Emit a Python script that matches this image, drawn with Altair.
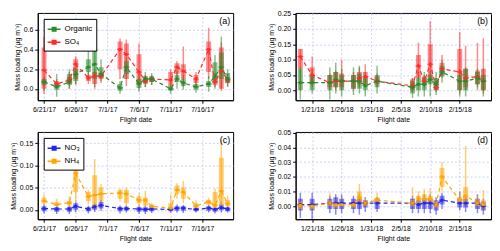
import altair as alt
import pandas as pd

# ---------------- data ----------------
summer_dates = ["2017-06-21", "2017-06-23", "2017-06-25", "2017-06-26", "2017-06-28",
                "2017-06-29", "2017-06-30", "2017-07-03", "2017-07-04", "2017-07-06",
                "2017-07-07", "2017-07-08", "2017-07-11", "2017-07-12", "2017-07-13",
                "2017-07-15", "2017-07-17", "2017-07-18", "2017-07-19", "2017-07-20"]
winter_dates = ["2018-01-19", "2018-01-21", "2018-01-24", "2018-01-25", "2018-01-26",
                "2018-01-28", "2018-01-29", "2018-01-30", "2018-02-01", "2018-02-07",
                "2018-02-08", "2018-02-09", "2018-02-10", "2018-02-11", "2018-02-12",
                "2018-02-15", "2018-02-16", "2018-02-18", "2018-02-19"]

# each entry: (lower whisker, q1, median, q3, upper whisker)
organic_summer = [(-0.02, 0.04, 0.07, 0.10, 0.12), (-0.08, -0.01, 0.02, 0.06, 0.15),
                  (0.00, 0.04, 0.07, 0.15, 0.20), (0.04, 0.08, 0.15, 0.20, 0.25),
                  (0.12, 0.17, 0.22, 0.30, 0.39), (0.02, 0.10, 0.25, 0.42, 0.60),
                  (0.08, 0.11, 0.15, 0.22, 0.30), (-0.05, -0.02, 0.01, 0.05, 0.08),
                  (0.10, 0.15, 0.22, 0.28, 0.32), (-0.03, 0.01, 0.05, 0.10, 0.15),
                  (0.02, 0.06, 0.10, 0.13, 0.17), (0.04, 0.07, 0.10, 0.13, 0.16),
                  (-0.05, -0.02, 0.00, 0.03, 0.07), (0.00, 0.07, 0.10, 0.14, 0.18),
                  (-0.01, 0.03, 0.06, 0.10, 0.14), (-0.04, -0.01, 0.02, 0.05, 0.08),
                  (-0.03, 0.02, 0.05, 0.08, 0.13), (0.00, 0.06, 0.13, 0.27, 0.34),
                  (0.00, 0.10, 0.22, 0.37, 0.53), (0.02, 0.06, 0.10, 0.16, 0.20)]
so4_summer = [(-0.05, 0.00, 0.19, 0.42, 0.53), (0.00, 0.02, 0.05, 0.08, 0.10),
              (0.00, 0.05, 0.09, 0.12, 0.17), (0.05, 0.10, 0.25, 0.30, 0.33),
              (0.05, 0.08, 0.11, 0.14, 0.18), (0.00, 0.05, 0.13, 0.17, 0.20),
              (0.06, 0.10, 0.13, 0.16, 0.18), (0.10, 0.20, 0.40, 0.48, 0.51),
              (0.03, 0.10, 0.35, 0.46, 0.50), (0.00, 0.05, 0.17, 0.35, 0.46),
              (0.02, 0.05, 0.08, 0.12, 0.14), (0.04, 0.07, 0.10, 0.12, 0.14),
              (0.00, 0.03, 0.09, 0.17, 0.20), (0.08, 0.15, 0.22, 0.26, 0.28),
              (0.02, 0.10, 0.18, 0.25, 0.43), (0.03, 0.06, 0.10, 0.14, 0.17),
              (0.10, 0.17, 0.40, 0.48, 0.62), (0.02, 0.04, 0.07, 0.12, 0.16),
              (-0.02, 0.00, 0.18, 0.42, 0.47), (0.03, 0.06, 0.09, 0.12, 0.15)]
organic_winter = [(-0.03, 0.00, 0.025, 0.07, 0.075), (-0.01, 0.00, 0.025, 0.05, 0.07),
                  (-0.03, 0.00, 0.025, 0.05, 0.075), (-0.01, 0.01, 0.035, 0.06, 0.09),
                  (-0.02, 0.00, 0.03, 0.05, 0.07), (-0.015, 0.005, 0.03, 0.05, 0.075),
                  (-0.01, 0.005, 0.03, 0.055, 0.08), (-0.02, 0.00, 0.015, 0.04, 0.06),
                  (-0.01, 0.01, 0.03, 0.05, 0.08), (-0.025, -0.01, 0.01, 0.03, 0.04),
                  (-0.02, 0.00, 0.02, 0.04, 0.06), (-0.02, 0.00, 0.02, 0.04, 0.06),
                  (-0.02, 0.02, 0.035, 0.05, 0.065), (-0.015, 0.00, 0.02, 0.04, 0.06),
                  (0.025, 0.045, 0.06, 0.08, 0.10), (-0.02, 0.00, 0.03, 0.05, 0.07),
                  (-0.02, 0.00, 0.03, 0.07, 0.075), (0.00, 0.02, 0.04, 0.06, 0.07),
                  (-0.02, 0.00, 0.03, 0.05, 0.07)]
so4_winter = [(0.00, 0.07, 0.11, 0.135, 0.135), (0.01, 0.02, 0.05, 0.075, 0.11),
              (0.00, 0.01, 0.025, 0.05, 0.055), (0.00, 0.01, 0.03, 0.06, 0.065),
              (0.00, 0.01, 0.03, 0.055, 0.10), (0.00, 0.005, 0.03, 0.05, 0.06),
              (0.01, 0.02, 0.04, 0.06, 0.075), (0.01, 0.02, 0.045, 0.06, 0.085),
              (0.01, 0.02, 0.03, 0.045, 0.055), (-0.005, 0.00, 0.015, 0.035, 0.04),
              (0.03, 0.04, 0.08, 0.115, 0.155), (0.01, 0.02, 0.03, 0.045, 0.05),
              (0.02, 0.035, 0.085, 0.15, 0.225), (-0.005, 0.00, 0.01, 0.03, 0.04),
              (0.04, 0.05, 0.07, 0.09, 0.115), (-0.01, 0.00, 0.06, 0.135, 0.19),
              (0.00, 0.01, 0.04, 0.07, 0.145), (0.01, 0.02, 0.045, 0.065, 0.155),
              (-0.01, 0.00, 0.03, 0.07, 0.17)]
no3_summer = [(-0.008, -0.003, 0.003, 0.008, 0.012), (-0.009, -0.004, 0.002, 0.006, 0.009),
              (-0.009, -0.004, 0.002, 0.007, 0.010), (-0.005, 0.000, 0.008, 0.015, 0.018),
              (-0.008, -0.003, 0.002, 0.006, 0.009), (-0.005, 0.000, 0.007, 0.012, 0.016),
              (-0.002, 0.003, 0.010, 0.018, 0.022), (-0.008, -0.003, 0.003, 0.007, 0.010),
              (-0.006, -0.002, 0.003, 0.007, 0.010), (-0.009, -0.004, 0.002, 0.006, 0.010),
              (-0.009, -0.004, 0.001, 0.006, 0.010), (-0.007, -0.003, 0.002, 0.006, 0.009),
              (-0.006, -0.003, 0.001, 0.005, 0.008), (-0.006, -0.002, 0.004, 0.008, 0.012),
              (-0.007, -0.002, 0.004, 0.008, 0.011), (-0.006, -0.003, 0.001, 0.005, 0.008),
              (-0.006, -0.002, 0.004, 0.008, 0.011), (-0.008, -0.004, 0.001, 0.005, 0.009),
              (-0.006, -0.001, 0.005, 0.012, 0.018), (-0.006, -0.003, 0.002, 0.006, 0.009)]
nh4_summer = [(0.010, 0.015, 0.020, 0.027, 0.035), (0.004, 0.008, 0.012, 0.017, 0.025),
              (0.006, 0.010, 0.016, 0.020, 0.030), (0.015, 0.040, 0.082, 0.100, 0.107),
              (0.012, 0.020, 0.030, 0.040, 0.045), (0.000, 0.005, 0.033, 0.078, 0.114),
              (0.010, 0.020, 0.036, 0.050, 0.058), (0.018, 0.025, 0.038, 0.045, 0.048),
              (0.008, 0.015, 0.036, 0.045, 0.050), (0.008, 0.015, 0.022, 0.030, 0.037),
              (0.005, 0.010, 0.022, 0.028, 0.043), (0.000, 0.004, 0.008, 0.012, 0.015),
              (-0.003, 0.000, 0.004, 0.015, 0.035), (0.025, 0.035, 0.045, 0.055, 0.060),
              (0.015, 0.025, 0.040, 0.050, 0.065), (0.000, 0.004, 0.009, 0.015, 0.022),
              (0.008, 0.012, 0.018, 0.022, 0.027), (-0.003, 0.000, 0.010, 0.040, 0.048),
              (0.005, 0.010, 0.042, 0.117, 0.158), (0.004, 0.008, 0.014, 0.022, 0.032)]
no3_winter = [(-0.008, -0.003, 0.001, 0.005, 0.009), (-0.009, -0.003, 0.001, 0.005, 0.009),
              (-0.005, -0.002, 0.002, 0.005, 0.007), (-0.006, -0.002, 0.002, 0.006, 0.008),
              (-0.005, -0.002, 0.002, 0.005, 0.008), (-0.005, -0.002, 0.002, 0.005, 0.007),
              (-0.006, -0.002, 0.002, 0.005, 0.008), (-0.004, -0.001, 0.002, 0.004, 0.006),
              (-0.004, -0.002, 0.002, 0.005, 0.006), (-0.005, -0.002, 0.002, 0.005, 0.007),
              (-0.005, -0.002, 0.001, 0.004, 0.007), (-0.005, -0.002, 0.002, 0.005, 0.008),
              (-0.005, -0.002, 0.002, 0.005, 0.008), (-0.006, -0.003, 0.001, 0.004, 0.006),
              (-0.002, 0.001, 0.004, 0.007, 0.009), (-0.003, -0.001, 0.002, 0.005, 0.010),
              (-0.004, -0.001, 0.002, 0.005, 0.007), (-0.005, -0.002, 0.002, 0.005, 0.008),
              (-0.006, -0.003, 0.000, 0.003, 0.005)]
nh4_winter = [(-0.003, -0.002, 0.0005, 0.003, 0.004), (-0.003, -0.002, 0.000, 0.002, 0.003),
              (-0.001, 0.000, 0.002, 0.004, 0.009), (-0.002, -0.001, 0.001, 0.003, 0.005),
              (-0.002, 0.000, 0.001, 0.003, 0.005), (-0.002, -0.001, 0.001, 0.003, 0.004),
              (0.000, 0.002, 0.006, 0.010, 0.015), (-0.001, 0.000, 0.002, 0.004, 0.006),
              (0.000, 0.002, 0.004, 0.006, 0.009), (-0.001, 0.000, 0.002, 0.004, 0.013),
              (0.000, 0.002, 0.005, 0.007, 0.010), (0.000, 0.002, 0.005, 0.008, 0.012),
              (0.000, 0.002, 0.005, 0.007, 0.012), (-0.002, -0.001, 0.001, 0.003, 0.005),
              (0.010, 0.013, 0.020, 0.026, 0.030), (0.000, 0.002, 0.004, 0.006, 0.010),
              (0.000, 0.002, 0.007, 0.013, 0.041), (-0.002, 0.000, 0.002, 0.005, 0.007),
              (-0.003, -0.001, 0.001, 0.004, 0.011)]

names_top = ["Organic", "SO\u2084"]
names_bottom = ["NO\u2083", "NH\u2084"]
colors_top = ["#2a8a2a", "#ff2a2a"]
colors_bottom = ["#2424ee", "#ffa500"]

summer_ticks = [(2017, 6, 21), (2017, 6, 26), (2017, 7, 1), (2017, 7, 6), (2017, 7, 11), (2017, 7, 16)]
winter_ticks = [(2018, 1, 21), (2018, 1, 26), (2018, 1, 31), (2018, 2, 5), (2018, 2, 10), (2018, 2, 15)]
summer_domain = [(2017, 6, 20, 19), (2017, 7, 20, 2)]
winter_domain = [(2018, 1, 19, 1), (2018, 2, 19, 11)]

W, H = 197, 88
FONT = "Liberation Sans"
YTITLE = "Mass loading (\u00b5g m\u207b\u00b3)"
LEGEND_PATH = "M-1,0H1M-0.28,-0.28H0.28V0.28H-0.28Z"


def dt(t):
    return alt.DateTime(year=t[0], month=t[1], date=t[2], hours=t[3] if len(t) > 3 else 0, utc=True)


def build_frame(dates, series):
    rows = []
    for name, stats in series:
        for d, (lo, q1, med, q3, hi) in zip(dates, stats):
            rows.append({"date": d, "species": name, "lo": lo, "q1": q1,
                         "med": med, "q3": q3, "hi": hi})
    return pd.DataFrame(rows)


def panel(df, names, colors, xdom, xticks, ydom, yticks, yfmt, label, legend):
    x = alt.X("date:T",
              scale=alt.Scale(type="utc", domain=[dt(t) for t in xdom]),
              axis=alt.Axis(values=[dt(t) for t in xticks], format="%-m/%-d/%y",
                            title="Flight date"))
    y_scale = alt.Scale(domain=ydom, nice=False, zero=False)
    y_axis = alt.Axis(values=yticks, format=yfmt, title=YTITLE)
    if legend:
        leg = alt.Legend(title=None, orient="top-left", offset=6, strokeColor="black",
                         fillColor="white", padding=3, labelFontSize=8, labelFont=FONT,
                         symbolType=LEGEND_PATH, symbolSize=170, symbolStrokeWidth=1.4,
                         symbolOpacity=1, rowPadding=0, labelOffset=3)
    else:
        leg = None
    color = alt.Color("species:N", scale=alt.Scale(domain=names, range=colors), legend=leg)
    base = alt.Chart(df)
    whisk = base.mark_rule(strokeWidth=1.5, opacity=0.55, clip=True).encode(
        x=x, y=alt.Y("lo:Q", scale=y_scale, axis=y_axis), y2="hi:Q", color=color)
    box = base.mark_bar(size=5, opacity=0.55, clip=True).encode(
        x=x, y=alt.Y("q1:Q", scale=y_scale, axis=y_axis), y2="q3:Q", color=color)
    line = base.mark_line(strokeDash=[4, 3], strokeWidth=1.2, clip=True).encode(
        x=x, y=alt.Y("med:Q", scale=y_scale, axis=y_axis), color=color)
    tick = base.mark_tick(orient="horizontal", size=6, thickness=1.2, clip=True).encode(
        x=x, y=alt.Y("med:Q", scale=y_scale, axis=y_axis), color=color)
    pts = base.mark_point(filled=True, shape="square", size=8, opacity=1, clip=True).encode(
        x=x, y=alt.Y("med:Q", scale=y_scale, axis=y_axis), color=color)
    lab = alt.Chart(pd.DataFrame({"t": [label]})).mark_text(
        align="right", baseline="top", fontSize=9, font=FONT, color="black").encode(
        x=alt.value(W - 3), y=alt.value(4), text="t:N")
    return alt.layer(whisk, box, line, tick, pts, lab).properties(width=W, height=H)


df_a = build_frame(summer_dates, [(names_top[1], so4_summer), (names_top[0], organic_summer)])
df_b = build_frame(winter_dates, [(names_top[1], so4_winter), (names_top[0], organic_winter)])
df_c = build_frame(summer_dates, [(names_bottom[0], no3_summer), (names_bottom[1], nh4_summer)])
df_d = build_frame(winter_dates, [(names_bottom[0], no3_winter), (names_bottom[1], nh4_winter)])

pa = panel(df_a, names_top, colors_top, summer_domain, summer_ticks, [-0.115, 0.77],
           [0.0, 0.2, 0.4, 0.6], ".1f", "(a)", True)
pb = panel(df_b, names_top, colors_top, winter_domain, winter_ticks, [-0.032, 0.252],
           [0.0, 0.05, 0.10, 0.15, 0.20, 0.25], ".2f", "(b)", False)
pc = panel(df_c, names_bottom, colors_bottom, summer_domain, summer_ticks, [-0.021, 0.175],
           [0.0, 0.05, 0.10, 0.15], ".2f", "(c)", True)
pd_ = panel(df_d, names_bottom, colors_bottom, winter_domain, winter_ticks, [-0.009, 0.0506],
            [0.0, 0.01, 0.02, 0.03, 0.04, 0.05], ".2f", "(d)", False)

chart = alt.concat(pa, pb, pc, pd_, columns=2, spacing={"row": 32, "column": 63},
                   bounds="flush").resolve_scale(
    x="independent", y="independent", color="independent"
).properties(padding=0).configure_view(
    stroke="black", strokeWidth=1
).configure_axis(
    labelFont=FONT, titleFont=FONT, labelFontSize=7, titleFontSize=7,
    titleFontWeight="normal", labelColor="black", titleColor="black",
    gridColor="#c4c4f0", gridDash=[2, 2], gridWidth=0.8,
    domainColor="black", tickColor="black", tickSize=3, labelPadding=2,
    titlePadding=3
)

chart.save("out.html", embed_options={"renderer": "svg", "actions": False})
